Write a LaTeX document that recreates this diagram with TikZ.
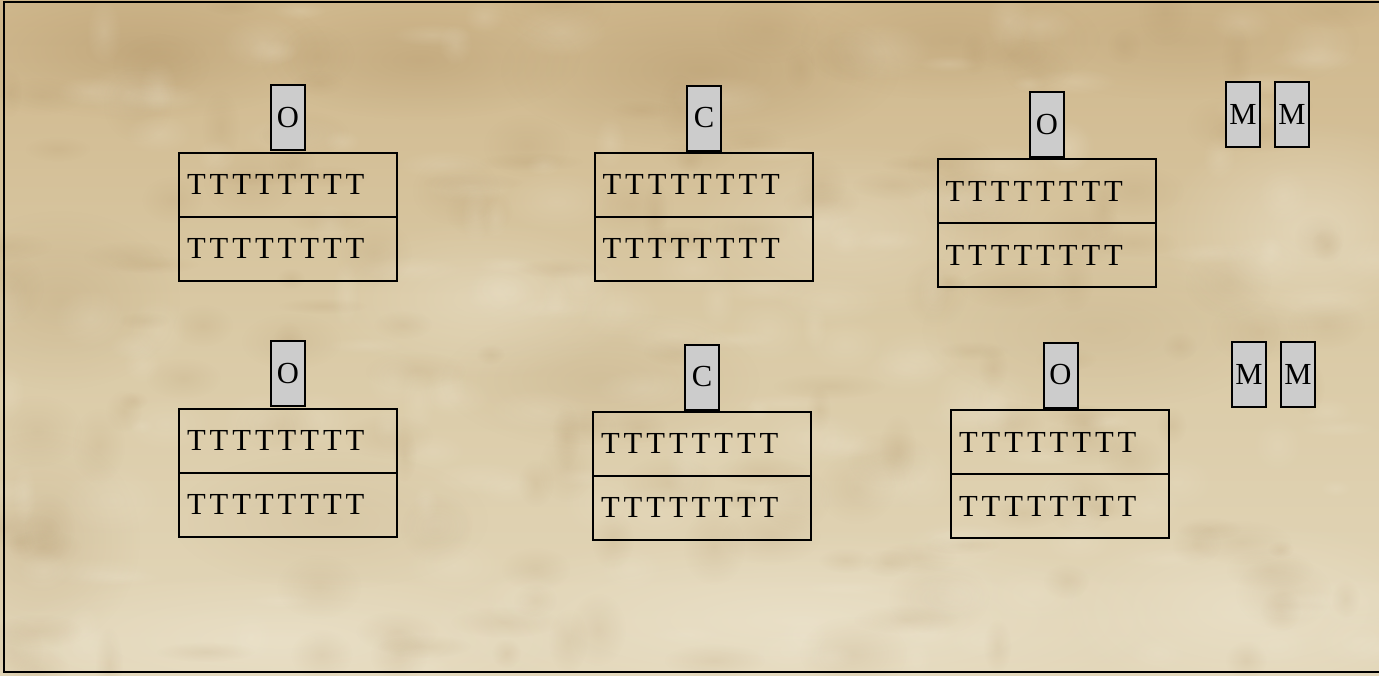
\documentclass[tikz,border=0pt]{standalone}
\usepackage{fontspec}
\setmainfont{Liberation Serif}
\usetikzlibrary{fadings}
\tikzfading[name=softblob, inner color=transparent!0, outer color=transparent!100]
\definecolor{paper}{HTML}{DACAA6}
\definecolor{papertop}{HTML}{CFB78C}
\definecolor{paperbot}{HTML}{E3D7BA}
\definecolor{stain}{HTML}{A98A5C}
\definecolor{light}{HTML}{F1EAD7}
\definecolor{tabfill}{HTML}{CCCCCC}
\begin{document}
\begin{tikzpicture}[x=0.5pt,y=-0.5pt,
  lbl/.style={font=\fontsize{15.3}{18}\selectfont\addfontfeature{LetterSpace=13}},
  cell/.style={draw=black, line width=1pt, minimum width=109pt, minimum height=32pt,
    text width=101pt, inner xsep=4pt, inner ysep=0pt, align=left, lbl},
  tab/.style={draw=black, line width=1pt, fill=tabfill, minimum width=17pt,
    minimum height=32.5pt, inner sep=0pt, font=\fontsize{15.3}{18}\selectfont},
  blob/.style={fill=stain, path fading=softblob, opacity=#1},
  glow/.style={fill=light, path fading=softblob, opacity=#1}]
\useasboundingbox (0,0) rectangle (1379,675);
% parchment background
\shade[top color=papertop, bottom color=paperbot, middle color=paper] (0,0) rectangle (1379,675);
\fill[blob=0.35] (140,50) ellipse (190 and 70);
\fill[blob=0.3] (420,60) ellipse (160 and 60);
\fill[blob=0.35] (700,70) ellipse (200 and 80);
\fill[blob=0.25] (950,40) ellipse (150 and 60);
\fill[blob=0.2] (1180,40) ellipse (180 and 60);
\fill[blob=0.2] (60,300) ellipse (120 and 90);
\fill[blob=0.18] (600,380) ellipse (160 and 70);
\fill[blob=0.15] (1100,330) ellipse (180 and 80);
\fill[blob=0.2] (40,540) ellipse (100 and 110);
\fill[blob=0.12] (330,520) ellipse (160 and 70);
\fill[glow=0.45] (1310,230) ellipse (150 and 110);
\fill[glow=0.35] (480,300) ellipse (160 and 80);
\fill[glow=0.5] (800,620) ellipse (380 and 90);
\fill[glow=0.45] (280,640) ellipse (300 and 70);
\fill[glow=0.45] (1250,610) ellipse (200 and 90);
\fill[glow=0.3] (850,230) ellipse (160 and 90);
% mottled texture
\pgfmathsetseed{4321}
\foreach \i in {1,...,160}{
  \pgfmathsetmacro\mya{rnd*1379}
  \pgfmathsetmacro\myb{rnd*675}
  \pgfmathsetmacro\myc{12+rnd*45}
  \pgfmathsetmacro\myd{8+rnd*30}
  \fill[blob=0.14] (\mya,\myb) ellipse [x radius=\myc, y radius=\myd];
}
\foreach \i in {1,...,160}{
  \pgfmathsetmacro\mya{rnd*1379}
  \pgfmathsetmacro\myb{rnd*675}
  \pgfmathsetmacro\myc{12+rnd*45}
  \pgfmathsetmacro\myd{8+rnd*30}
  \fill[glow=0.18] (\mya,\myb) ellipse [x radius=\myc, y radius=\myd];
}
\draw[black, line width=1pt] (4,2) rectangle (1390,672);

% row 1
\node[tab] (tA) at (288,117.5) {O};
\node[cell] (a1) at (288,184.5) {TTTTTTTT};
\node[cell] (a2) at (288,248.5) {TTTTTTTT};
\node[tab] (tB) at (704,118) {C};
\node[cell] (b1) at (703.5,184.5) {TTTTTTTT};
\node[cell] (b2) at (703.5,248.5) {TTTTTTTT};
\node[tab] (tC) at (1047,124.5) {O};
\node[cell] (c1) at (1046.5,191) {TTTTTTTT};
\node[cell] (c2) at (1046.5,255) {TTTTTTTT};
\node[tab] (m1) at (1243,114.5) {M};
\node[tab] (m2) at (1292,114.5) {M};

% row 2
\node[tab] (tD) at (288,373.5) {O};
\node[cell] (d1) at (288,440.5) {TTTTTTTT};
\node[cell] (d2) at (288,504.5) {TTTTTTTT};
\node[tab] (tE) at (702,377) {C};
\node[cell] (e1) at (702,443.5) {TTTTTTTT};
\node[cell] (e2) at (702,507.5) {TTTTTTTT};
\node[tab] (tF) at (1060.5,375) {O};
\node[cell] (f1) at (1060,442) {TTTTTTTT};
\node[cell] (f2) at (1060,506) {TTTTTTTT};
\node[tab] (m3) at (1249,374.5) {M};
\node[tab] (m4) at (1298,374.5) {M};
\end{tikzpicture}
\end{document}
